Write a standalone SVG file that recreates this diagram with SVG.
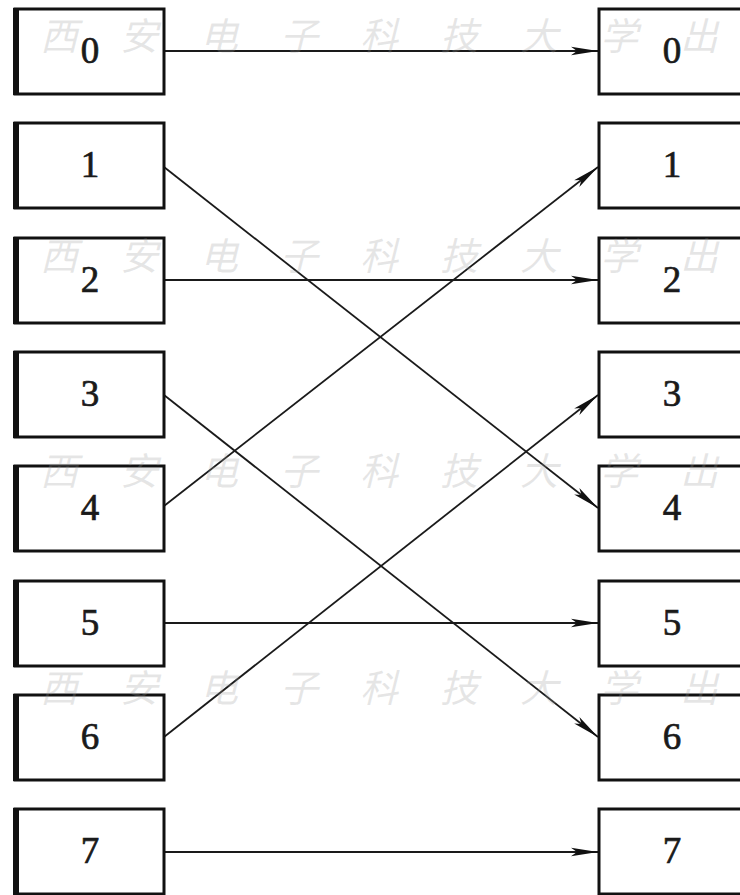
<svg xmlns="http://www.w3.org/2000/svg" width="740" height="895" viewBox="0 0 740 895">
<defs>
<style>
.box{fill:#fff;stroke:#111;stroke-width:3}
.lb{stroke:#111;stroke-width:6}
.num{font-family:"Liberation Serif","DejaVu Serif",serif;font-size:37px;fill:#1a1a1a;stroke:#1a1a1a;stroke-width:0.7;text-anchor:middle}
.wm{font-family:"Noto Sans CJK SC",sans-serif;font-size:38px;fill:#9a9a9a;fill-opacity:0.25;font-style:italic}
.edge{stroke:#1a1a1a;stroke-width:1.8;fill:none;marker-end:url(#ah)}
</style>
<marker id="ah" markerUnits="userSpaceOnUse" markerWidth="30" markerHeight="12" refX="27" refY="6" orient="auto">
<path d="M0,1.8 L27,6 L0,10.2 L6,6 z" fill="#111"/>
</marker>
</defs>
<rect width="740" height="895" fill="#fff"/>
<g id="connectors">
<line class="edge" x1="164" y1="51" x2="598" y2="51"/>
<line class="edge" x1="164" y1="167" x2="598" y2="508"/>
<line class="edge" x1="164" y1="280" x2="598" y2="280"/>
<line class="edge" x1="164" y1="395" x2="598" y2="737"/>
<line class="edge" x1="164" y1="506" x2="598" y2="167"/>
<line class="edge" x1="164" y1="623" x2="598" y2="623"/>
<line class="edge" x1="164" y1="737" x2="598" y2="395"/>
<line class="edge" x1="164" y1="852" x2="598" y2="852"/>
</g>
<g id="L0"><rect class="box" x="15" y="9" width="149" height="85"/><line class="lb" x1="16" y1="8" x2="16" y2="95"/><text class="num" x="90" y="63">0</text></g>
<g id="L1"><rect class="box" x="15" y="123" width="149" height="85"/><line class="lb" x1="16" y1="122" x2="16" y2="209"/><text class="num" x="90" y="177">1</text></g>
<g id="L2"><rect class="box" x="15" y="238" width="149" height="85"/><line class="lb" x1="16" y1="237" x2="16" y2="324"/><text class="num" x="90" y="292">2</text></g>
<g id="L3"><rect class="box" x="15" y="352" width="149" height="85"/><line class="lb" x1="16" y1="351" x2="16" y2="438"/><text class="num" x="90" y="406">3</text></g>
<g id="L4"><rect class="box" x="15" y="466" width="149" height="85"/><line class="lb" x1="16" y1="465" x2="16" y2="552"/><text class="num" x="90" y="520">4</text></g>
<g id="L5"><rect class="box" x="15" y="581" width="149" height="85"/><line class="lb" x1="16" y1="580" x2="16" y2="667"/><text class="num" x="90" y="635">5</text></g>
<g id="L6"><rect class="box" x="15" y="695" width="149" height="85"/><line class="lb" x1="16" y1="694" x2="16" y2="781"/><text class="num" x="90" y="749">6</text></g>
<g id="L7"><rect class="box" x="15" y="809" width="149" height="85"/><line class="lb" x1="16" y1="808" x2="16" y2="895"/><text class="num" x="90" y="863">7</text></g>
<g id="R0"><rect class="box" x="599" y="9" width="150" height="85"/><text class="num" x="672" y="63">0</text></g>
<g id="R1"><rect class="box" x="599" y="123" width="150" height="85"/><text class="num" x="672" y="177">1</text></g>
<g id="R2"><rect class="box" x="599" y="238" width="150" height="85"/><text class="num" x="672" y="292">2</text></g>
<g id="R3"><rect class="box" x="599" y="352" width="150" height="85"/><text class="num" x="672" y="406">3</text></g>
<g id="R4"><rect class="box" x="599" y="466" width="150" height="85"/><text class="num" x="672" y="520">4</text></g>
<g id="R5"><rect class="box" x="599" y="581" width="150" height="85"/><text class="num" x="672" y="635">5</text></g>
<g id="R6"><rect class="box" x="599" y="695" width="150" height="85"/><text class="num" x="672" y="749">6</text></g>
<g id="R7"><rect class="box" x="599" y="809" width="150" height="85"/><text class="num" x="672" y="863">7</text></g>
<g id="watermark">
<text class="wm" x="40 120 200 280 360 440 520 600 680" y="50">西安电子科技大学出</text>
<text class="wm" x="40 120 200 280 360 440 520 600 680" y="270">西安电子科技大学出</text>
<text class="wm" x="40 120 200 280 360 440 520 600 680" y="485">西安电子科技大学出</text>
<text class="wm" x="40 120 200 280 360 440 520 600 680" y="702">西安电子科技大学出</text>
</g>
</svg>
